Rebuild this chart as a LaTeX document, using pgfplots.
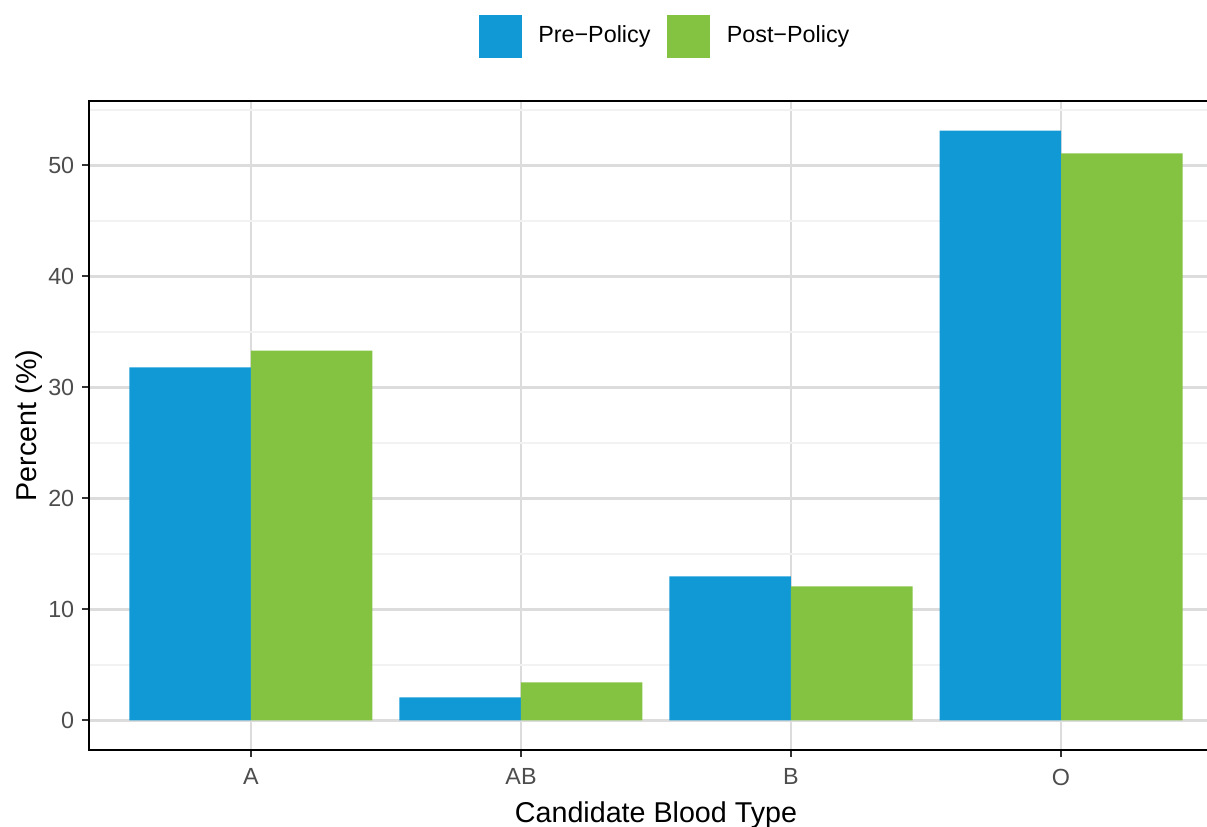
\documentclass[border=0pt]{standalone}
\usepackage{pgfplots}
\pgfplotsset{compat=1.18}
\usepackage{fontspec}
\setmainfont{Liberation Sans}
\definecolor{preblue}{RGB}{17,153,214}
\definecolor{postgreen}{RGB}{131,195,65}
\definecolor{tickgray}{RGB}{77,77,77}
\definecolor{gridmaj}{RGB}{220,220,220}
\definecolor{gridmin}{RGB}{242,242,242}
\begin{document}
\begin{tikzpicture}
\begin{axis}[
  scale only axis,
  width=340.2pt, height=194.7pt,
  xmin=-0.6, xmax=3.6,
  ymin=-2.66, ymax=55.81,
  xtick={0,1,2,3},
  xticklabels={A,AB,B,O},
  ytick={0,10,20,30,40,50},
  minor ytick={5,15,25,35,45,55},
  xmajorgrids, ymajorgrids, yminorgrids,
  major grid style={draw=gridmaj, line width=0.8pt},
  minor grid style={draw=gridmin, line width=0.4pt},
  tick align=outside,
  xtick pos=bottom, ytick pos=left,
  major tick length=2.1pt, minor tick length=0pt,
  tick style={draw=black!80, line width=0.6pt},
  axis line style={line width=0.75pt, black},
  /pgf/number format/assume math mode=true,
  ticklabel style={font=\fontsize{7}{8}\selectfont, text=tickgray},
  yticklabel style={xshift=1.2pt},
  xlabel={Candidate Blood Type},
  ylabel={Percent (\%)},
  label style={font=\fontsize{8.6}{10}\selectfont},
  xlabel style={yshift=2pt},
  ylabel style={yshift=-5pt},
  legend columns=2,
  legend style={
    at={(0.5,1)}, anchor=center, yshift=19.3pt, xshift=2.4pt,
    draw=none, fill=none,
    font=\fontsize{7}{8}\selectfont,
    nodes={inner sep=0pt},
    /tikz/every odd column/.append style={column sep=5pt},
    /tikz/every even column/.append style={column sep=5pt},
  },
  legend image code/.code={\fill[#1] (0pt,-6.45pt) rectangle (12.9pt,6.45pt);},
]
\addplot[ybar, bar width=0.45, bar shift=-0.225, fill=preblue, draw=none]
  coordinates {(0,31.8) (1,2.07) (2,12.97) (3,53.15)};
\addlegendentry{Pre\textminus Policy}
\addplot[ybar, bar width=0.45, bar shift=0.225, fill=postgreen, draw=none]
  coordinates {(0,33.33) (1,3.42) (2,12.07) (3,51.08)};
\addlegendentry{Post\textminus Policy}
\end{axis}
\pgfresetboundingbox
\useasboundingbox (-26.7pt,-23.1pt) rectangle (335.4pt,225pt);
\end{tikzpicture}
\end{document}
